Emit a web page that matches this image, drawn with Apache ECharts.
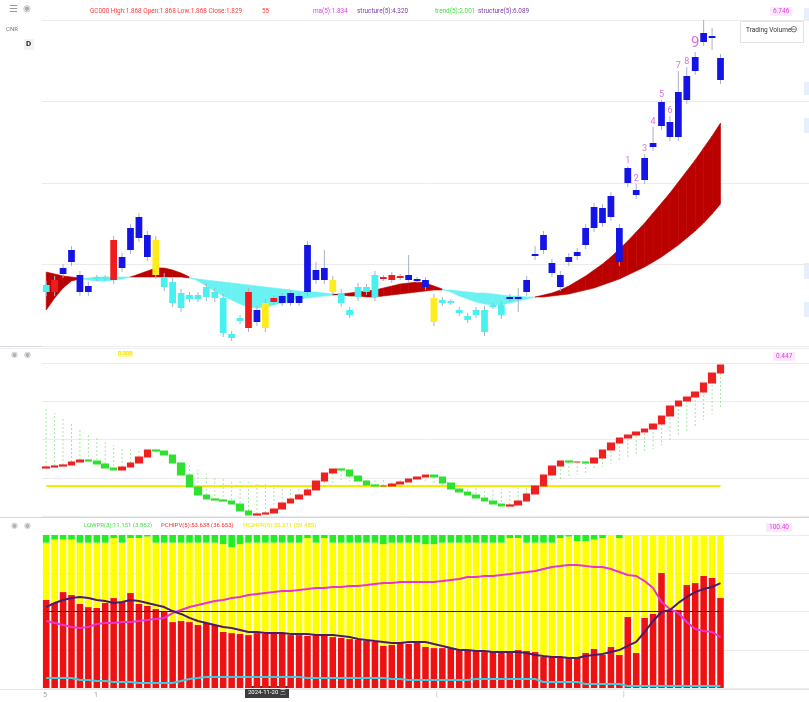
<!DOCTYPE html>
<html><head><meta charset="utf-8">
<script src="https://cdn.jsdelivr.net/npm/echarts@6/dist/echarts.min.js"></script>
<style>html,body{margin:0;padding:0;background:#fff}#c{width:809px;height:702px}</style>
</head><body><div id="c"></div>
<script>
// ---------- categories (trading days) ----------
const cats = [];
(function(){ let d = new Date(Date.UTC(2024,9,15)); while (cats.length < 91) { const wd = d.getUTCDay(); if (wd !== 0 && wd !== 6) cats.push(d.toISOString().slice(0,10)); d.setUTCDate(d.getUTCDate()+1); } })();

// ---------- panel 1: candles ----------
const p1Open = [1.355,1.355,1.535,1.655,1.355,1.355,1.485,1.485,1.475,1.595,
 1.775,1.895,1.705,1.525,1.405,1.245,1.195,1.285,1.285,1.305,
 1.295,0.945,0.895,1.065,0.995,1.055,0.995,1.255,1.245,1.245,
 1.245,1.355,1.475,1.475,1.355,1.245,1.125,1.305,1.355,1.305,
 1.485,1.475,1.495,1.475,1.465,1.405,1.055,1.245,1.245,1.145,
 1.075,1.125,0.955,1.205,1.125,1.285,1.285,1.355,1.715,1.775,
 1.545,1.405,1.655,1.715,1.825,1.995,2.045,2.105,1.655,2.445,
 2.325,2.475,2.805,3.015,2.905,2.905,3.275,3.565,3.855,3.895,3.475];
const p1Close = [1.425,1.475,1.595,1.775,1.525,1.415,1.505,1.505,1.875,1.705,
 1.995,2.105,1.925,1.875,1.505,1.455,1.345,1.325,1.325,1.405,
 1.355,1.295,0.935,1.095,1.355,1.175,1.245,1.295,1.315,1.345,
 1.315,1.825,1.575,1.595,1.475,1.345,1.175,1.405,1.405,1.525,
 1.505,1.525,1.515,1.525,1.485,1.475,1.295,1.275,1.265,1.175,
 1.115,1.175,1.175,1.225,1.225,1.305,1.305,1.475,1.735,1.925,
 1.645,1.525,1.705,1.755,1.995,2.205,2.195,2.315,1.995,2.595,
 2.375,2.695,2.845,3.255,3.055,3.355,3.515,3.705,3.945,3.915,3.695];
const p1Low = [1.315,1.315,1.495,1.615,1.315,1.315,1.465,1.465,1.435,1.555,
 1.735,1.855,1.665,1.485,1.365,1.205,1.155,1.255,1.255,1.265,
 1.255,0.905,0.865,1.035,0.955,1.015,0.955,1.225,1.215,1.215,
 1.215,1.315,1.435,1.435,1.315,1.205,1.095,1.265,1.325,1.265,
 1.465,1.445,1.475,1.445,1.445,1.375,1.015,1.215,1.225,1.115,
 1.045,1.095,0.915,1.185,1.085,1.255,1.155,1.315,1.675,1.735,
 1.505,1.365,1.615,1.675,1.785,1.955,2.005,2.065,1.615,2.405,
 2.285,2.435,2.765,2.975,2.865,2.865,3.235,3.525,3.815,3.775,3.435];
const p1High = [1.465,1.515,1.635,1.815,1.565,1.455,1.525,1.525,1.915,1.745,
 2.035,2.145,1.965,1.915,1.545,1.495,1.385,1.355,1.355,1.445,
 1.395,1.335,0.965,1.125,1.395,1.215,1.285,1.325,1.345,1.375,
 1.345,1.865,1.655,1.775,1.515,1.385,1.205,1.445,1.435,1.565,
 1.525,1.555,1.535,1.725,1.505,1.505,1.335,1.305,1.285,1.205,
 1.145,1.205,1.215,1.245,1.265,1.335,1.395,1.515,1.815,1.965,
 1.685,1.565,1.745,1.795,2.035,2.245,2.235,2.355,2.035,2.615,
 2.435,2.735,3.005,3.275,3.115,3.565,3.605,3.755,4.075,3.995,3.735];
const p1Color = ("crbbbbccrb"+"bbbycccccc"+"ccccrbyrbb"+"bbbbyccccc"+"rrrbbbyccc"+
 "cccccbbbbb"+"bbbbbbbbbb"+"bbbbbbbbbb"+"b").split('');
const maFast = [1.555,1.535,1.515,1.505,1.495,1.475,1.465,1.465,1.475,1.485,
 1.505,1.535,1.565,1.595,1.595,1.575,1.545,1.505,1.465,1.415,
 1.365,1.315,1.275,1.235,1.205,1.195,1.205,1.225,1.245,1.265,
 1.285,1.295,1.305,1.315,1.325,1.335,1.345,1.355,1.365,1.375,
 1.395,1.415,1.435,1.445,1.455,1.445,1.415,1.385,1.355,1.315,
 1.285,1.255,1.235,1.225,1.225,1.245,1.265,1.285,1.305,1.325,
 1.345,1.375,1.415,1.465,1.515,1.575,1.635,1.705,1.785,1.865,
 1.955,2.045,2.145,2.245,2.345,2.455,2.565,2.675,2.795,2.915,3.045];
const maSlow = [1.175,1.295,1.395,1.465,1.485,1.495,1.505,1.505,1.505,1.505,
 1.505,1.505,1.505,1.505,1.505,1.505,1.505,1.495,1.485,1.475,
 1.465,1.455,1.445,1.435,1.425,1.415,1.405,1.395,1.385,1.375,
 1.365,1.355,1.355,1.345,1.335,1.325,1.315,1.315,1.305,1.305,
 1.315,1.325,1.335,1.345,1.355,1.365,1.375,1.375,1.375,1.365,
 1.355,1.345,1.345,1.335,1.325,1.315,1.315,1.305,1.305,1.305,
 1.315,1.325,1.335,1.355,1.375,1.395,1.425,1.455,1.485,1.525,
 1.565,1.605,1.655,1.705,1.765,1.825,1.895,1.965,2.045,2.135,2.235];
const tdIndex = [69,70,71,72,73,74,75,76,77];
const tdCount = [1,2,3,4,5,6,7,8,9];

// ---------- panel 2: oscillator ----------
const oscStart = 0.48;
const osc = [0.49,0.50,0.51,0.54,0.56,0.55,0.52,0.48,0.46,0.49,
 0.53,0.59,0.66,0.65,0.61,0.53,0.41,0.29,0.21,0.17,
 0.16,0.15,0.12,0.05,0.01,0.02,0.03,0.07,0.13,0.17,
 0.21,0.26,0.35,0.43,0.47,0.46,0.40,0.35,0.31,0.30,
 0.30,0.32,0.34,0.37,0.39,0.41,0.39,0.33,0.27,0.24,
 0.21,0.18,0.15,0.12,0.10,0.11,0.15,0.22,0.30,0.41,
 0.50,0.55,0.54,0.54,0.53,0.58,0.66,0.73,0.78,0.81,
 0.84,0.87,0.92,1.00,1.10,1.15,1.19,1.24,1.33,1.43,1.51];
const sig = [1.08,1.03,0.98,0.93,0.88,0.83,0.78,0.74,0.71,0.68,
 0.66,0.65,0.64,0.63,0.61,0.58,0.54,0.50,0.46,0.42,
 0.39,0.37,0.36,0.35,0.34,0.33,0.32,0.31,0.30,0.30,
 0.30,0.30,0.31,0.32,0.33,0.34,0.35,0.36,0.36,0.36,
 0.36,0.36,0.36,0.36,0.35,0.34,0.32,0.31,0.30,0.29,
 0.28,0.28,0.27,0.27,0.27,0.27,0.28,0.29,0.31,0.33,
 0.35,0.37,0.39,0.41,0.43,0.46,0.49,0.52,0.55,0.58,
 0.61,0.64,0.67,0.71,0.75,0.79,0.84,0.89,0.96,1.02,1.08];
const p2Level = 0.30;

// ---------- panel 3: stacked ratio bars + lines ----------
const redPart = [57.5,55.6,62.7,60.8,54.9,52.9,52.3,55.6,58.8,56.2,
 62.1,54.9,53.6,51.6,50.3,43.1,43.8,43.1,41.2,42.5,
 41.2,36.6,35.9,35.3,34.6,35.9,35.3,35.3,35.3,34.6,
 34.6,34.0,34.6,34.6,33.3,32.7,32.0,31.4,30.7,30.1,
 27.5,28.1,29.4,28.8,29.4,26.8,26.1,26.1,26.1,24.8,
 24.2,24.2,23.5,23.5,23.5,23.5,24.8,24.2,23.5,20.3,
 20.3,19.6,19.6,19.6,22.9,25.5,21.6,26.8,21.6,46.4,
 22.9,45.8,48.4,75.2,51.0,51.0,67.3,68.6,73.2,71.9,58.8];
const yellowPart = [37.5,41.4,34.3,36.2,40.1,42.1,42.7,39.4,39.2,38.8,
 35.9,43.1,45.4,43.4,44.7,51.9,51.2,51.9,53.8,52.5,
 53.8,57.4,56.1,58.7,60.4,59.1,59.7,59.7,59.7,60.4,
 60.4,64.0,60.4,63.4,61.7,62.3,63.0,63.6,64.3,64.9,
 66.5,66.9,65.6,66.2,65.6,67.2,67.9,68.9,68.9,70.2,
 70.8,70.8,71.5,71.5,71.5,74.5,73.2,70.8,71.5,74.7,
 74.7,78.4,79.4,76.4,73.1,71.5,76.4,73.2,76.4,53.6,
 77.1,54.2,51.6,24.8,49.0,49.0,32.7,31.4,26.8,28.1,41.2];
const greenPart = [5,3,3,3,5,5,5,5,2,5,
 2,2,1,5,5,5,5,5,5,5,
 5,6,8,6,5,5,5,5,5,5,
 5,2,5,2,5,5,5,5,5,5,
 6,5,5,5,5,6,6,5,5,5,
 5,5,5,5,5,2,2,5,5,5,
 5,2,1,4,4,3,2,0,2,0,
 0,0,0,0,0,0,0,0,0,0,0];
const pinkLine = [43.8,42.5,41.2,39.9,39.2,39.9,41.8,42.5,42.5,43.1,
 43.1,43.8,44.4,45.1,45.8,49.0,51.0,52.9,54.2,55.6,
 56.9,57.5,58.8,59.5,60.8,61.4,62.1,62.7,63.4,63.4,
 64.1,64.7,65.4,65.4,66.0,66.0,66.7,66.7,67.3,68.0,
 68.6,68.6,69.3,69.3,69.3,69.3,69.3,69.9,70.6,71.2,
 72.5,72.5,73.2,73.2,73.9,74.5,75.2,75.8,76.5,77.8,
 79.1,79.7,80.4,80.4,79.7,79.1,79.1,77.8,75.8,73.9,
 73.2,69.9,65.4,56.2,51.6,49.0,43.1,38.6,37.3,36.6,33.3];
const purpleLine = [52.9,55.6,57.5,58.8,59.5,58.8,57.5,56.9,55.6,56.2,
 57.5,56.9,55.6,54.2,52.9,50.3,48.4,45.8,43.8,42.5,
 41.2,39.9,39.2,37.9,36.6,36.6,35.9,35.9,35.9,35.3,
 35.3,35.3,34.6,34.6,34.6,34.0,33.3,32.0,31.4,30.7,
 30.1,29.4,29.4,30.1,30.1,30.1,28.8,27.5,26.1,24.8,
 24.8,24.2,24.2,23.5,23.5,23.5,23.5,22.9,21.6,20.9,
 20.3,20.3,19.6,19.6,20.9,21.6,22.2,23.5,24.8,27.5,
 30.1,36.6,43.8,49.7,51.0,55.6,59.5,62.7,64.7,66.0,68.6];
const cyanLine = [6.5,6.5,6.5,6.5,5.2,5.2,4.6,4.6,3.9,3.9,
 3.9,3.3,3.3,3.3,3.3,3.3,4.6,5.9,6.5,7.2,
 7.2,7.2,7.2,7.2,7.2,7.2,7.2,7.2,7.2,7.2,
 7.2,6.5,6.5,6.5,6.5,6.5,6.5,6.5,6.5,6.5,
 6.5,5.9,5.9,5.2,5.2,5.2,5.2,5.2,5.2,5.2,
 5.2,5.9,5.9,5.9,5.9,5.9,5.9,5.9,5.9,3.9,
 3.9,3.9,3.9,3.9,2.6,2.6,2.6,2.6,2.6,1.3,
 1.3,1.3,1.3,1.3,1.3,1.3,1.3,1.3,1.3,1.3,1.3];
const p3Mid = 50;

// ---------- render ----------
const FONT = 'Roboto, "Noto Sans", sans-serif';
const candleColors = {b:'#1414e6', r:'#ee1c1c', y:'#ffec1a', c:'#48f0f0'};
const n = p1Open.length;
const last = n - 1;

const candleData = p1Open.map((o,i)=>[i, o, p1Close[i], p1Low[i], p1High[i], 'bryc'.indexOf(p1Color[i])]);
const cloudData = [];
for (let i = 0; i < n-1; i++) cloudData.push([i, maFast[i], maSlow[i], maFast[i+1], maSlow[i+1]]);
const tdData = tdIndex.map((idx,k)=>({value:[idx, p1High[idx], tdCount[k]], label:{fontSize: tdCount[k]===9 ? 15 : 9}}));
const oscData = osc.map((v,i)=>{ const o = i===0 ? oscStart : osc[i-1]; return [o, v, Math.min(o,v), Math.max(o,v)]; });
const sigData = osc.map((v,i)=>[i, v, sig[i]]);

function renderCandle(params, api){
  const x = api.value(0);
  const pO = api.coord([x, api.value(1)]), pC = api.coord([x, api.value(2)]);
  const pL = api.coord([x, api.value(3)]), pH = api.coord([x, api.value(4)]);
  const w = api.size([1,0])[0]*0.8;
  const col = candleColors['bryc'[api.value(5)]];
  const top = Math.min(pO[1], pC[1]);
  const h = Math.max(Math.abs(pO[1]-pC[1]), 2);
  return {type:'group', children:[
    {type:'line', shape:{x1:pH[0], y1:pH[1], x2:pL[0], y2:pL[1]}, style:{stroke:'#a9b1c4', lineWidth:1}},
    {type:'rect', shape:{x:pO[0]-w/2, y:top, width:w, height:h}, style:{fill:col}}
  ]};
}
function renderCloud(params, api){
  const i = api.value(0);
  const f0 = api.value(1), s0 = api.value(2), f1 = api.value(3), s1 = api.value(4);
  const a = api.coord([i, f0]), b = api.coord([i+1, f1]), c = api.coord([i+1, s1]), d = api.coord([i, s0]);
  const col = (f0 + f1) >= (s0 + s1) ? '#bb0000' : '#6af2f2';
  return {type:'polygon', shape:{points:[a,b,c,d]}, style:{fill:col, stroke:col, lineWidth:0.6}};
}
function renderSig(params, api){
  const i = api.value(0);
  const a = api.coord([i, api.value(1)]), b = api.coord([i, api.value(2)]);
  return {type:'line', shape:{x1:a[0], y1:a[1], x2:b[0], y2:b[1]}, style:{stroke:'#a6e8a6', lineWidth:1, lineDash:[2,2]}};
}

const xA = k => ({type:'category', gridIndex:k, data:cats, boundaryGap:true,
  axisLine:{show:false}, axisTick:{show:false}, axisLabel:{show:false}, splitLine:{show:false}});
const yA = (k, min, max, interval) => ({type:'value', gridIndex:k, position:'right', min, max, interval,
  axisLine:{show:false}, axisTick:{show:false}, axisLabel:{show:false},
  splitLine:{show:true, lineStyle:{color:'#ebebeb', width:1}}});

const txt = (x,y,text,fill,size,extra) => ({type:'text', left:x, top:y, silent:true,
  style:Object.assign({text, fill, fontSize:size||6, fontFamily:FONT}, extra||{})});
const hline = (y,color) => ({type:'line', silent:true, shape:{x1:0,y1:y,x2:809,y2:y}, style:{stroke:color||'#d6d8e0', lineWidth:1}});
const stub = (y,h) => ({type:'rect', left:804, top:y, silent:true, shape:{width:5,height:h}, style:{fill:'#e6effc'}});

const graphics = [
  hline(346.5), hline(348.5,'#eceef2'), hline(517.5), hline(689.5,'#e4e6ea'),
  txt(9,4,'☰','#9a9a9a',10), txt(23,4,'◉','#aaaaaa',9),
  txt(6,26,'CNR','#777',6),
  {type:'rect', left:24, top:39, silent:true, shape:{width:10,height:11}, style:{fill:'#f2f2f2'}},
  txt(26,40,'D','#222',8,{fontWeight:'bold'}),
  txt(90,8,'GC000 High:1.868 Open:1.868 Low:1.868 Close:1.829','#ff3b3b',6.4),
  txt(262,8,'55','#ff3b3b',6.4),
  txt(313,8,'ma(5):1.834','#e040e0',6.4),
  txt(357,8,'structure(5):4.320','#7a3aa8',6.4),
  txt(435,8,'trend(5):2.001','#44e044',6.4),
  txt(478,8,'structure(5):6.089','#7a3aa8',6.4),
  txt(770,7,'6.746','#e040e0',6.5,{backgroundColor:'#fde8fd', padding:[1,3]}),
  {type:'rect', left:740, top:21, silent:true, shape:{width:63,height:21}, style:{fill:'#ffffff', stroke:'#e2e2e2', lineWidth:1}},
  txt(746,27,'Trading Volume','#333',6.5),
  txt(790,25,'⊖','#555',9),
  stub(8,12), stub(82,13), stub(118,15), stub(263,16), stub(302,15),
  txt(11,351,'◉','#b0b0b0',8), txt(24,351,'◉','#b0b0b0',8),
  txt(118,351,'0.300','#e8e000',5.8,{backgroundColor:'#fdfba0'}),
  txt(773,352,'0.447','#e040e0',6.5,{backgroundColor:'#fde8fd', padding:[1,3]}),
  txt(11,522,'◉','#b0b0b0',8), txt(24,522,'◉','#b0b0b0',8),
  txt(84,522,'LOWPR(3):11.151 (3.862)','#3ee03e',6),
  txt(161,522,'PCHIPV(5):53.638 (36.653)','#ff2a2a',6),
  txt(243,522,'HIGHPR(5):35.211 (59.485)','#e8e800',6),
  txt(766,523,'100.40','#e040e0',6.5,{backgroundColor:'#fde8fd', padding:[1,3]}),
  txt(43,692,'5','#a0a0a0',7),
  txt(94,692,'1','#a0a0a0',7),
  txt(436,691,'|','#b0b0b0',7),
  txt(623,691,'|','#b0b0b0',7),
  {type:'rect', left:245, top:686, silent:true, shape:{width:44,height:12}, style:{fill:'#3c3c3c'}},
  txt(248,689,'2024-11-20 三','#ffffff',6)
];

const option = {
  animation:false,
  backgroundColor:'#ffffff',
  grid:[
    {left:42, right:0, top:20, height:326},
    {left:42, right:0, top:363, height:153},
    {left:42, right:0, top:535, height:153}
  ],
  xAxis:[xA(0), xA(1), xA(2)],
  yAxis:[yA(0,0.815,4.075,0.815), yA(1,0,1.53,0.3825), yA(2,0,100,25)],
  graphic: graphics,
  series:[
    {type:'custom', name:'cloud', xAxisIndex:0, yAxisIndex:0, renderItem:renderCloud, data:cloudData, z:1,
      encode:{x:0, y:[1,2,3,4]}, silent:true},
    {type:'custom', name:'price', xAxisIndex:0, yAxisIndex:0, renderItem:renderCandle, data:candleData, z:3,
      encode:{x:0, y:[1,2,3,4]}, silent:true},
    {type:'scatter', name:'td', xAxisIndex:0, yAxisIndex:0, data:tdData, symbolSize:0, z:4, silent:true,
      label:{show:true, position:'top', distance:1, color:'#d04cd0', fontFamily:FONT, formatter:p=>String(p.value[2])}},
    {type:'custom', name:'sig', xAxisIndex:1, yAxisIndex:1, renderItem:renderSig, data:sigData, z:1,
      encode:{x:0, y:[1,2]}, silent:true},
    {type:'line', name:'level', xAxisIndex:1, yAxisIndex:1, data:[[0,p2Level],[last,p2Level]], symbol:'none',
      lineStyle:{color:'#f2ee00', width:2}, z:2, silent:true},
    {type:'candlestick', name:'osc', xAxisIndex:1, yAxisIndex:1, data:oscData, barWidth:7, z:3, silent:true,
      itemStyle:{color:'#ee2020', color0:'#30e030', borderColor:'#ee2020', borderColor0:'#30e030', borderWidth:1.2}},
    {type:'bar', name:'red', xAxisIndex:2, yAxisIndex:2, stack:'r', data:redPart, barWidth:'78%', itemStyle:{color:'#ee1111'}, silent:true},
    {type:'bar', name:'yellow', xAxisIndex:2, yAxisIndex:2, stack:'r', data:yellowPart, barWidth:'78%', itemStyle:{color:'#ffff00'}, silent:true},
    {type:'bar', name:'green', xAxisIndex:2, yAxisIndex:2, stack:'r', data:greenPart, barWidth:'78%', itemStyle:{color:'#22ee22'}, silent:true},
    {type:'line', name:'mid', xAxisIndex:2, yAxisIndex:2, data:[[0,p3Mid],[last,p3Mid]], symbol:'none',
      lineStyle:{color:'#222222', width:1}, z:4, silent:true},
    {type:'line', name:'cyan', xAxisIndex:2, yAxisIndex:2, data:cyanLine, symbol:'none', lineStyle:{color:'#3ccbe0', width:2}, z:5, silent:true},
    {type:'line', name:'pink', xAxisIndex:2, yAxisIndex:2, data:pinkLine, symbol:'none', lineStyle:{color:'#e834d4', width:2}, z:5, silent:true},
    {type:'line', name:'purple', xAxisIndex:2, yAxisIndex:2, data:purpleLine, symbol:'none', lineStyle:{color:'#4c1c6a', width:2}, z:6, silent:true}
  ]
};
const chart = echarts.init(document.getElementById('c'), null, {renderer:'canvas'});
chart.setOption(option);
</script>
</body></html>
